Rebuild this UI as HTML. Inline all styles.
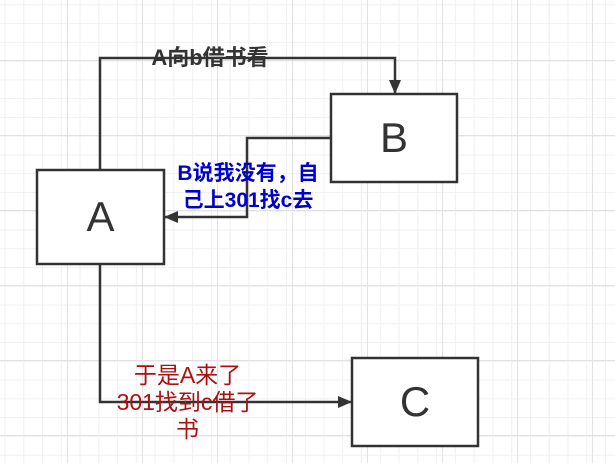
<!DOCTYPE html>
<html><head><meta charset="utf-8"><style>
html,body{margin:0;padding:0;}
body{width:615px;height:463px;overflow:hidden;position:relative;background:#fff;
background-image:
linear-gradient(to right,#e2e2e2 1px,transparent 1px),
linear-gradient(to bottom,#e2e2e2 1px,transparent 1px),
linear-gradient(to right,#f0f0f0 1px,transparent 1px),
linear-gradient(to bottom,#f0f0f0 1px,transparent 1px);
background-size:75px 75px,75px 75px,18.77px 18.77px,18.77px 18.77px;
background-position:67px 0,0 60px,4.5px 0,0 4.3px;}
.t{position:absolute;font-family:"Liberation Sans","Noto Sans CJK SC",sans-serif;white-space:nowrap;text-align:center;}
</style></head><body>
<svg width="615" height="463" style="position:absolute;left:0;top:0">
<defs><marker id="ar" markerWidth="14" markerHeight="12" refX="13" refY="6" orient="auto" markerUnits="userSpaceOnUse"><path d="M0,0 L14,6 L0,12 Z" fill="#333"/></marker></defs>
<g fill="#fff" stroke="#333" stroke-width="2.5">
<rect x="37" y="170" width="127" height="94"/>
<rect x="331" y="94" width="126" height="88"/>
<rect x="352" y="358" width="126" height="88"/>
</g>
<g fill="none" stroke="#333" stroke-width="2.5">
<path d="M100,170 V58 H395 V93" marker-end="url(#ar)"/>
<path d="M331,138 H247 V217 H165" marker-end="url(#ar)"/>
<path d="M100,264 V402 H351" marker-end="url(#ar)"/>
</g>
</svg>
<div class="t" style="left:37px;width:127px;top:193px;font-size:42px;line-height:48px;color:#333">A</div>
<div class="t" style="left:331px;width:126px;top:114px;font-size:42px;line-height:48px;color:#333">B</div>
<div class="t" style="left:352px;width:126px;top:378px;font-size:42px;line-height:48px;color:#333">C</div>
<div class="t" style="left:130px;width:160px;top:45px;font-size:22px;line-height:26px;font-weight:bold;color:#333">A向b借书看</div>
<div class="t" style="left:163px;width:170px;top:160px;font-size:21px;line-height:27px;font-weight:bold;color:#0000cc">B说我没有，自<br>己上301找c去</div>
<div class="t" style="left:90px;width:195px;top:362px;font-size:23px;line-height:27px;color:#aa1111">于是A来了<br>301找到c借了<br>书</div>
</body></html>
